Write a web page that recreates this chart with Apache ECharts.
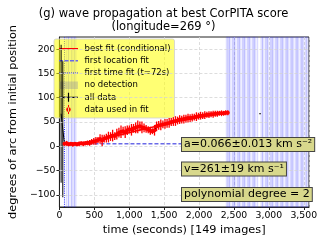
<!DOCTYPE html>
<html><head><meta charset="utf-8">
<script src="https://cdn.jsdelivr.net/npm/echarts@6/dist/echarts.min.js"></script>
<style>html,body{margin:0;padding:0;background:#fff}#c{width:327px;height:245px}</style>
</head><body><div id="c"></div>
<script>
// ---- data ----
const fitTimes = [72,102,132,162,192,222,252,282,312,342,372,402,432,
  462,492,522,552,582,612,642,672,702,
  732,762,792,822,852,882,912,942,972,1002,1032,1062,1092,1122,1152,1182,1212,1242,1272,1302,1332,
  1362,1392,1422,1452,1482,1512,1542,1572,1602,1632,1662,1692,1722,1752,1782,1812,1842,1872,
  1902,1932,1962,1992,2022,2052,2082,2112,2142,2172,2202,2232,2262,2292,2322,2352,2382,2412];
const fitValues = [5,6,4,5,4,5,4,5,6,5,6,7,7,
  9,10,11,13,15,12,16,17,19,
  20,22,21,25,28,30,31,29,33,35,34,37,38,40,41,39,38,36,34,32,31,
  33,41,43,44,45,46,47,48,50,51,52,53,55,55,56,57,58,58,
  59,60,61,62,63,63,64,65,65,66,66,67,67,68,68,68,69,69];
const fitErrors = [4,5,4,4,5,4,4,5,4,5,4,5,6,
  6,7,8,6,10,12,8,9,11,
  9,12,8,11,10,13,9,12,10,8,12,9,11,13,10,12,9,8,7,8,6,
  11,10,9,11,8,10,9,10,8,9,10,8,9,8,9,8,9,8,
  8,7,9,7,8,7,8,6,7,6,7,6,6,5,6,5,5,5];
const earlyTimes = [24,48];
const earlyValues = [67,35];
const earlyErrors = [142,140];
const lateTimes = [2862,2886];
const lateValues = [67,67];
const bestFitTimes = [72,400,800,1200,1600,2000,2412];
const bestFitValues = [4,9,21,35,48,60,70];
const firstLocation = 5;
const firstTime = 72;
const noDetection = [[98,130],[130,177],[177,213],[213,237],
  [2390,2414],[2414,2438],[2438,2486],[2486,2510],[2510,2558],[2558,2582],[2582,2630],[2630,2654],
  [2654,2702],[2702,2726],[2726,2774],[2774,2798],[2798,2840],
  [2887,2911],[2911,2959],[2959,2983],[2983,3031],[3031,3055],[3055,3103],[3103,3127],[3127,3175],
  [3175,3199],[3199,3247],[3247,3271],[3271,3319],[3319,3343],[3343,3391],[3391,3415],[3415,3463],
  [3463,3487],[3487,3535],[3535,3562]];
const yTicks = [-100,-50,0,50,100,150,200];
const xMin = 0, xMax = 3575, yMin = -125, yMax = 225;

// ---- chart ----
const FONT = 'DejaVu Sans';
const corners = 'M0,0h0.01v0.01h-0.01z M18.99,8.99h0.01v0.01h-0.01z ';
const ICON_LINE = 'path://' + corners + 'M0,3.9h19v1.4h-19z';
const ICON_DASH = 'path://' + corners + 'M0,3.9h4v1.4h-4z M5.5,3.9h4v1.4h-4z M11,3.9h4v1.4h-4z M16.5,3.9h2.5v1.4h-2.5z';
const ICON_DOT = 'path://' + corners + 'M0,4.1h1v1h-1z M2,4.1h1v1h-1z M4,4.1h1v1h-1z M6,4.1h1v1h-1z M8,4.1h1v1h-1z M10,4.1h1v1h-1z M12,4.1h1v1h-1z M14,4.1h1v1h-1z M16,4.1h1v1h-1z M18,4.1h1v1h-1z';
const ICON_RECT = 'path://' + corners + 'M0,1h19v7.5h-19z';
const ICON_CROSS = 'path://' + corners + 'M0,4h19v1.2h-19z M8.9,0h1.2v9h-1.2z';
const ICON_ERRDOT = 'path://' + corners + 'M9,0h1v9h-1z M7.2,4.5a2.3,2.3 0 1,0 4.6,0a2.3,2.3 0 1,0 -4.6,0z';

function errBar(color, dot, lw) {
  return function (params, api) {
    const x = api.value(0), y = api.value(1), e = api.value(2);
    const p1 = api.coord([x, y - e]), p2 = api.coord([x, y + e]), c = api.coord([x, y]);
    const ch = [{type:'line', shape:{x1:p1[0], y1:p1[1], x2:p2[0], y2:p2[1]}, style:{stroke:color, lineWidth:lw}}];
    if (dot) ch.push({type:'circle', shape:{cx:c[0], cy:c[1], r:2}, style:{fill:color}});
    return {type:'group', children: ch};
  };
}

const chart = echarts.init(document.getElementById('c'), null, {renderer:'canvas'});
const fitData = fitTimes.map((t,i)=>[t, fitValues[i], fitErrors[i]]);
const earlyData = earlyTimes.map((t,i)=>[t, earlyValues[i], earlyErrors[i]]);
const allLine = earlyTimes.map((t,i)=>[t, earlyValues[i]]).concat(fitTimes.map((t,i)=>[t, fitValues[i]]));

chart.setOption({
  animation: false,
  textStyle: {fontFamily: FONT},
  title: {
    text: '(g) wave propagation at best CorPITA score\n(longitude=269 °)',
    left: 'center', top: 8, padding: [0,0,0,35], itemGap: 0,
    textStyle: {fontFamily: FONT, fontSize: 11.5, fontWeight: 'normal', color: '#000', lineHeight: 12.5}
  },
  grid: {left: 53, right: 18, top: 37, bottom: 38, show: true, borderColor: '#222', borderWidth: 1, backgroundColor: 'transparent'},
  xAxis: {
    type: 'value', min: xMin, max: xMax, interval: 500,
    name: 'time (seconds) [149 images]', nameLocation: 'middle', nameGap: 13,
    nameTextStyle: {fontFamily: FONT, fontSize: 11.3, color: '#000'},
    axisLine: {show: true, onZero: false, lineStyle: {color: '#222'}},
    axisTick: {show: true, length: 3, lineStyle: {color: '#222'}},
    axisLabel: {fontFamily: FONT, fontSize: 9.3, color: '#000', margin: 4, showMaxLabel: false},
    splitLine: {show: true, lineStyle: {color: '#d4d4d4', type: [3,2], width: 0.8}}
  },
  yAxis: {
    type: 'value', min: yMin, max: yMax,
    name: 'degrees of arc from initial position', nameLocation: 'middle', nameGap: 32,
    nameTextStyle: {fontFamily: FONT, fontSize: 11.3, color: '#000'},
    axisLine: {show: true, onZero: false, lineStyle: {color: '#222'}},
    axisTick: {show: true, length: 3, customValues: yTicks, lineStyle: {color: '#222'}},
    axisLabel: {fontFamily: FONT, fontSize: 9.3, color: '#000', margin: 4, customValues: yTicks,
      formatter: v => String(v).replace('-', '\u2212')},
    splitLine: {show: false}
  },
  legend: {
    orient: 'vertical', left: 54, top: 39, padding: [5,4,4,5],
    itemWidth: 19, itemHeight: 9, itemGap: 3.2,
    backgroundColor: 'rgba(255,255,0,0.55)', borderColor: '#cfcfcf', borderWidth: 0.8, borderRadius: 2,
    textStyle: {fontFamily: FONT, fontSize: 8.5, color: '#000', padding: [0,0,0,1.5]},
    selectedMode: false,
    data: [
      {name: 'best fit (conditional)', icon: ICON_LINE, itemStyle: {color: '#ff0000', borderWidth: 0}},
      {name: 'first location fit', icon: ICON_DASH, itemStyle: {color: '#6a6ae8', borderWidth: 0}},
      {name: 'first time fit (t=72s)', icon: ICON_DOT, itemStyle: {color: '#2020ff', borderWidth: 0}},
      {name: 'no detection', icon: ICON_RECT, itemStyle: {color: 'rgba(140,140,160,0.35)', borderWidth: 0}},
      {name: 'all data', icon: ICON_CROSS, itemStyle: {color: '#000', borderWidth: 0}},
      {name: 'data used in fit', icon: ICON_ERRDOT, itemStyle: {color: '#ff0000', borderWidth: 0}}
    ]
  },
  series: [
    {
      name: 'no detection', type: 'line', data: [], z: 1, silent: true,
      markArea: {
        silent: true,
        itemStyle: {color: 'rgba(80,80,255,0.09)', borderColor: 'rgba(60,60,255,0.22)', borderWidth: 0.8},
        data: noDetection.map(r => [{xAxis: r[0]}, {xAxis: r[1]}])
      }
    },
    {
      name: 'ygrid', type: 'line', data: [], z: 1, silent: true,
      markLine: {silent: true, symbol: 'none', label: {show: false},
        lineStyle: {color: '#d4d4d4', type: [3,2], width: 0.8},
        data: yTicks.map(v => ({yAxis: v}))}
    },
    {
      name: 'first location fit', type: 'line', z: 3, symbol: 'none', silent: true,
      data: [[firstTime, firstLocation], [xMax, firstLocation]],
      lineStyle: {color: '#6a6ae8', width: 1.5, type: [4,2]}
    },
    {
      name: 'first time fit (t=72s)', type: 'line', z: 3, symbol: 'none', silent: true,
      data: [[firstTime, yMin], [firstTime, yMax]],
      lineStyle: {color: '#2020ff', width: 1, type: [1,1.2]}
    },
    {
      name: 'all data', type: 'line', z: 4, symbol: 'none', silent: true,
      data: allLine, lineStyle: {color: '#000', width: 1}
    },
    {
      name: 'all data', type: 'line', z: 4, symbol: 'none', silent: true,
      data: lateTimes.map((t,i)=>[t, lateValues[i]]), lineStyle: {color: '#000', width: 1}
    },
    {
      name: 'all data', type: 'custom', z: 4, clip: true, silent: true,
      renderItem: errBar('#000', false, 1), data: earlyData, encode: {x: 0, y: 1}
    },
    {
      name: 'data used in fit', type: 'custom', z: 5, clip: true, silent: true,
      renderItem: errBar('#ff0000', true, 1.3), data: fitData, encode: {x: 0, y: 1}
    },
    {
      name: 'best fit (conditional)', type: 'line', z: 6, symbol: 'none', smooth: true, silent: true,
      data: bestFitTimes.map((t,i)=>[t, bestFitValues[i]]), lineStyle: {color: '#ff0000', width: 1.5}
    }
  ],
  graphic: [
    {type: 'text', left: 181, top: 137, z: 100,
      style: {text: 'a=0.066±0.013 km s\u207B\u00B2', font: '11px "DejaVu Sans"', fill: '#000',
        backgroundColor: '#d8d88c', borderColor: '#444', borderWidth: 1, padding: [1,2,1,2]}},
    {type: 'text', left: 181, top: 161.5, z: 100,
      style: {text: 'v=261±19 km s\u207B\u00B9', font: '11px "DejaVu Sans"', fill: '#000',
        backgroundColor: '#d8d88c', borderColor: '#444', borderWidth: 1, padding: [1,2,1,2]}},
    {type: 'text', left: 181, top: 187, z: 100,
      style: {text: 'polynomial degree = 2', font: '11px "DejaVu Sans"', fill: '#000',
        backgroundColor: '#d8d88c', borderColor: '#444', borderWidth: 1, padding: [1,2,1,2]}}
  ]
});
</script></body></html>
